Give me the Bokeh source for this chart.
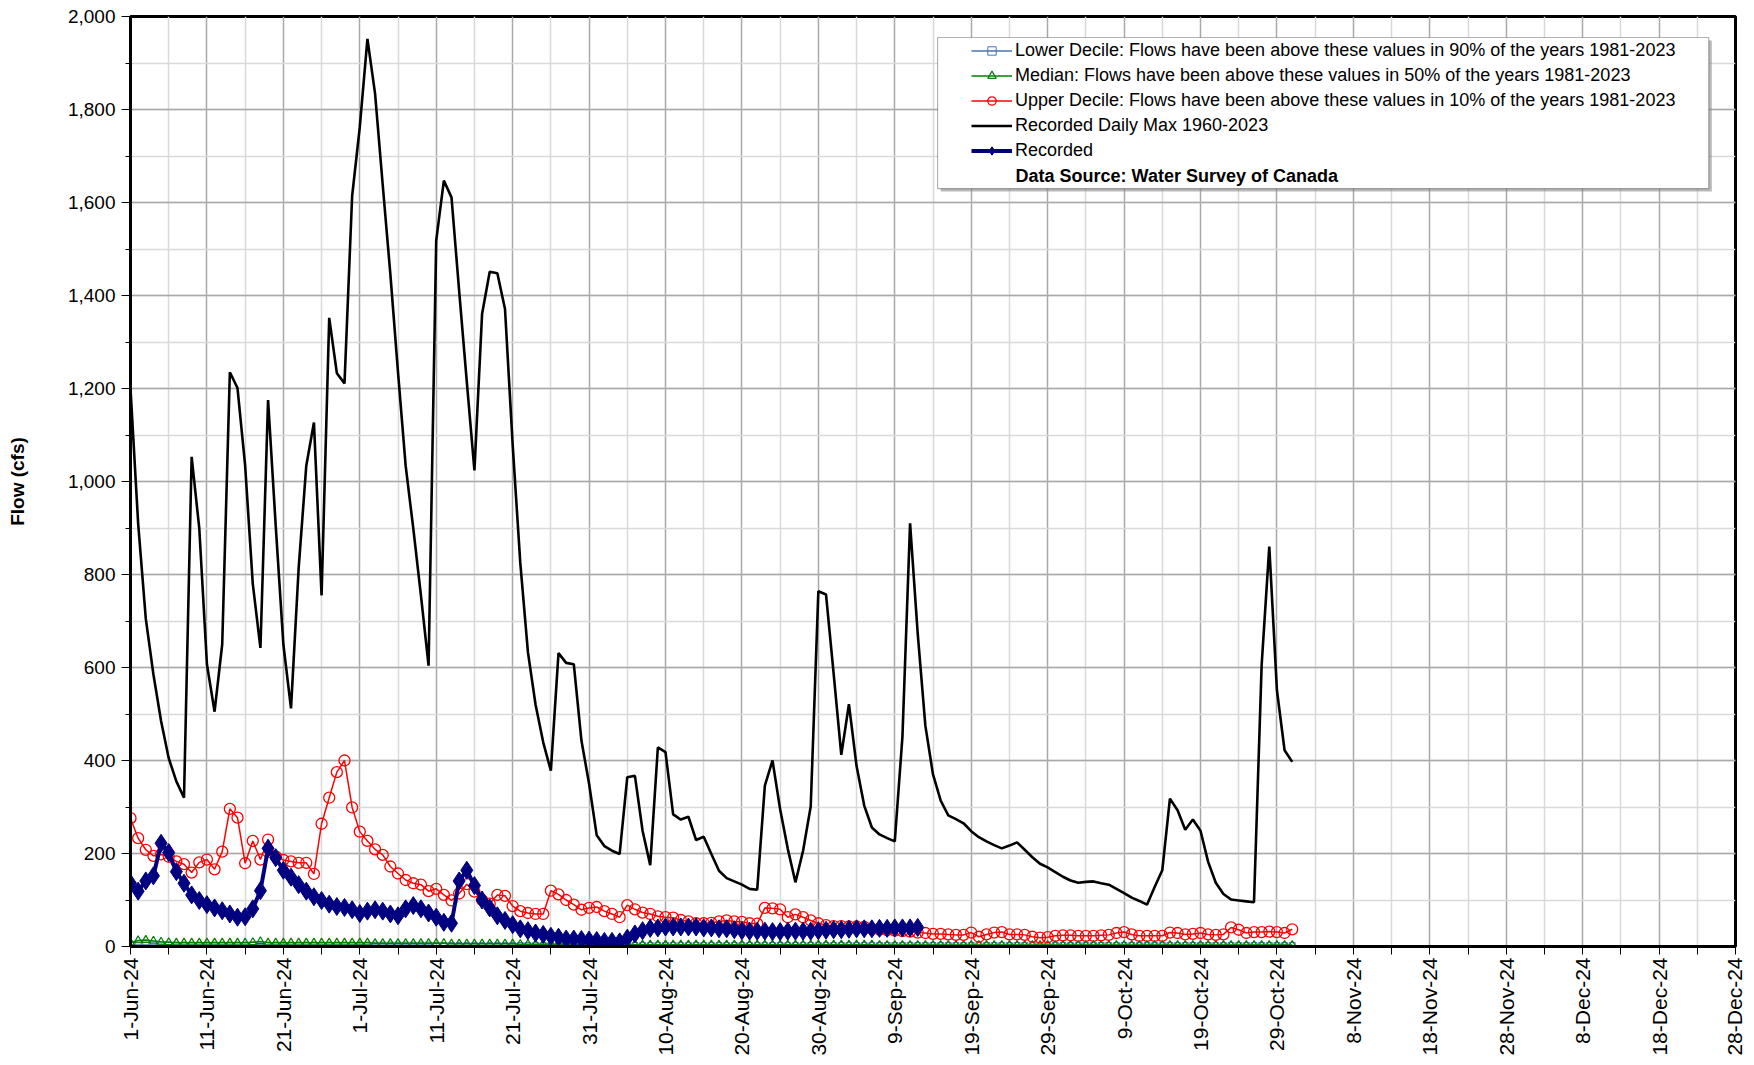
from bokeh.plotting import figure
from bokeh.models import (FixedTicker, SingleIntervalTicker, NumeralTickFormatter, Legend,
                          LegendItem, BoxAnnotation, Label, Range1d, ColumnDataSource)
from bokeh.embed import file_html
from bokeh.resources import INLINE
import math

# ---------------- data (days since 1-Jun-24) ----------------
x_tick_labels = ["1-Jun-24", "11-Jun-24", "21-Jun-24", "1-Jul-24", "11-Jul-24", "21-Jul-24",
                 "31-Jul-24", "10-Aug-24", "20-Aug-24", "30-Aug-24", "9-Sep-24", "19-Sep-24",
                 "29-Sep-24", "9-Oct-24", "19-Oct-24", "29-Oct-24", "8-Nov-24", "18-Nov-24",
                 "28-Nov-24", "8-Dec-24", "18-Dec-24", "28-Dec-24"]
x_tick_days = [0, 10, 20, 30, 40, 50, 60, 70, 80, 90, 100, 110, 120, 130, 140, 150, 160, 170,
               180, 190, 200, 210]
x_minor_days = [5, 15, 25, 35, 45, 55, 65, 75, 85, 95, 105, 115, 125, 135, 145, 155, 165, 175,
                185, 195, 205]

daily_max = [1200, 910, 705, 585, 485, 405, 355, 320, 1053, 899,
             607, 505, 650, 1235, 1201, 1034, 780, 642, 1175, 905,
             650, 512, 813, 1034, 1127, 755, 1352, 1233, 1211, 1614,
             1762, 1952, 1834, 1638, 1446, 1235, 1034, 899, 755, 604,
             1518, 1647, 1611, 1410, 1215, 1024, 1360, 1451, 1448, 1371,
             1080, 825, 633, 520, 439, 378, 631, 610, 607, 443,
             350, 239, 216, 206, 199, 364, 367, 249, 175, 428,
             418, 284, 273, 279, 229, 236, 199, 163, 147, 140,
             133, 124, 122, 346, 400, 295, 210, 138, 206, 301,
             764, 757, 587, 412, 521, 388, 303, 256, 241, 233,
             226, 451, 910, 673, 475, 370, 314, 282, 274, 265,
             248, 235, 226, 218, 211, 217, 224, 208, 192, 178,
             170, 160, 150, 142, 137, 139, 140, 136, 133, 124,
             115, 105, 98, 90, 128, 164, 318, 293, 251, 273,
             249, 182, 137, 113, 101, 99, 97, 95, 605, 860,
             551, 422, 397]

upper_decile = [276, 233, 208, 195, 198, 193, 183, 177, 159, 181,
                187, 166, 204, 296, 277, 179, 227, 187, 230, 194,
                186, 183, 180, 180, 156, 264, 320, 375, 400, 299,
                247, 227, 209, 197, 172, 157, 143, 136, 133, 119,
                124, 111, 99, 114, 134, 118, 100, 92, 111, 109,
                87, 76, 72, 70, 70, 120, 112, 100, 90, 79,
                83, 85, 76, 70, 63, 89, 80, 73, 70, 65,
                63, 62, 57, 54, 50, 50, 51, 54, 56, 54,
                53, 50, 49, 83, 82, 80, 63, 69, 63, 56,
                50, 46, 44, 44, 43, 43, 42, 38, 36, 35,
                34, 33, 32, 30, 29, 27, 27, 26, 25, 25,
                30, 21, 26, 30, 31, 26, 26, 25, 21, 19,
                20, 23, 24, 24, 23, 23, 23, 24, 25, 29,
                31, 26, 23, 23, 23, 23, 30, 29, 26, 27,
                29, 26, 25, 26, 41, 36, 29, 31, 31, 32,
                31, 29, 37]

median = [8, 13, 14, 12, 10, 9, 8, 8, 8, 8,
          8, 8, 8, 8, 8, 8, 9, 11, 8, 8,
          8, 8, 8, 8, 8, 8, 8, 8, 8, 8,
          8, 8, 7, 7, 7, 7, 7, 7, 7, 7,
          7, 7, 6, 6, 6, 6, 6, 6, 6, 6,
          6, 5, 5, 5, 5, 5, 5, 5, 4, 4,
          4, 4, 4, 4, 4, 4, 4, 4, 4, 4,
          4, 4, 4, 4, 4, 4, 4, 4, 4, 4,
          4, 4, 4, 4, 4, 4, 4, 4, 4, 4,
          4, 4, 4, 4, 4, 4, 4, 4, 3, 3,
          3, 3, 3, 3, 3, 3, 3, 3, 3, 3,
          3, 3, 3, 3, 3, 3, 3, 3, 3, 3,
          3, 3, 3, 3, 3, 3, 3, 3, 3, 3,
          3, 3, 3, 3, 3, 3, 3, 3, 3, 3,
          3, 3, 3, 3, 3, 3, 3, 3, 3, 3,
          3, 3, 3]

lower_decile = [3, 3, 3, 3, 3, 3, 3, 3, 3, 3,
                3, 3, 3, 3, 3, 3, 3, 3, 3, 3,
                3, 3, 3, 3, 3, 3, 3, 3, 3, 3,
                3, 3, 3, 3, 3, 3, 3, 3, 3, 3,
                2, 2, 2, 2, 2, 2, 2, 2, 2, 2,
                2, 2, 2, 2, 2, 2, 2, 2, 2, 2,
                2, 2, 2, 2, 2, 2, 2, 2, 2, 2,
                2, 2, 2, 2, 2, 2, 2, 2, 2, 2,
                2, 2, 2, 2, 2, 2, 2, 2, 2, 2,
                2, 2, 2, 2, 2, 2, 2, 2, 2, 2,
                2, 2, 2, 2, 2, 2, 2, 2, 2, 2,
                2, 2, 2, 2, 2, 2, 2, 2, 2, 2,
                2, 2, 2, 2, 2, 2, 2, 2, 2, 2,
                2, 2, 2, 2, 2, 2, 2, 2, 2, 2,
                2, 2, 2, 2, 2, 2, 2, 2, 2, 2,
                2, 2, 2]

recorded = [136, 119, 141, 152, 222, 202, 161, 136, 111, 99,
            90, 83, 77, 70, 63, 64, 81, 120, 211, 191,
            164, 149, 133, 119, 107, 99, 91, 86, 84, 79,
            71, 76, 79, 76, 70, 66, 81, 88, 81, 72,
            63, 52, 50, 141, 164, 131, 100, 83, 66, 56,
            47, 38, 34, 29, 26, 22, 20, 16, 16, 15,
            14, 13, 11, 11, 10, 18, 27, 34, 39, 40,
            42, 42, 42, 42, 42, 40, 40, 38, 38, 36,
            34, 33, 33, 33, 32, 32, 33, 33, 33, 33,
            34, 35, 36, 36, 37, 38, 38, 38, 39, 39,
            40, 40, 40, 41]

legend_labels = ["Lower Decile: Flows have been above these values in 90% of the years 1981-2023",
                 "Median: Flows have been above these values in 50% of the years 1981-2023",
                 "Upper Decile: Flows have been above these values in 10% of the years 1981-2023",
                 "Recorded Daily Max 1960-2023",
                 "Recorded"]
source_note = "Data Source: Water Survey of Canada"
y_title = "Flow (cfs)"

days = list(range(len(daily_max)))
rec_days = list(range(len(recorded)))

FONT = "Liberation Sans"

p = figure(width=1745, height=1062, x_range=Range1d(0, 210), y_range=Range1d(0, 2000),
           output_backend="svg", toolbar_location=None,
           min_border_left=130, min_border_right=10, min_border_top=16, min_border_bottom=116)
p.background_fill_color = "white"
p.border_fill_color = "white"
p.outline_line_color = "black"
p.outline_line_width = 3

# axes
xt = FixedTicker(ticks=x_tick_days, minor_ticks=x_minor_days)
p.xaxis.ticker = xt
p.xaxis.major_label_overrides = {d: l for d, l in zip(x_tick_days, x_tick_labels)}
p.xaxis.major_label_orientation = math.pi / 2
yt = SingleIntervalTicker(interval=200, num_minor_ticks=2)
p.yaxis.ticker = yt
p.yaxis.formatter = NumeralTickFormatter(format="0,0")

for ax in (p.xaxis[0], p.yaxis[0]):
    ax.axis_line_color = "black"
    ax.axis_line_width = 3
    ax.major_tick_line_color = "black"
    ax.minor_tick_line_color = "black"
    ax.major_tick_line_width = 1
    ax.minor_tick_line_width = 1
    ax.major_tick_in = 0
    ax.minor_tick_in = 0
    ax.major_label_text_font = FONT
    ax.major_label_text_color = "black"
p.xaxis.major_label_text_font_size = "21px"
p.yaxis.major_label_text_font_size = "19px"
p.xaxis.major_tick_out = 8
p.xaxis.minor_tick_out = 8
p.xaxis.major_label_standoff = 3
p.yaxis.major_tick_out = 9
p.yaxis.minor_tick_out = 5
p.yaxis.major_label_standoff = 6
p.yaxis.axis_label = y_title
p.yaxis.axis_label_text_font = FONT
p.yaxis.axis_label_text_font_style = "bold"
p.yaxis.axis_label_text_font_size = "19px"
p.yaxis.axis_label_text_color = "black"
p.yaxis.axis_label_standoff = 37

# grids
p.xgrid.ticker = xt
p.ygrid.ticker = yt
for g in (p.xgrid[0], p.ygrid[0]):
    g.grid_line_color = "#a8a8a8"
    g.grid_line_width = 1.5
    g.minor_grid_line_color = "#d9d9d9"
    g.minor_grid_line_width = 1.5

# series
src = ColumnDataSource(dict(day=days, mx=daily_max, up=upper_decile, md=median, lo=lower_decile))
rsrc = ColumnDataSource(dict(day=rec_days, rec=recorded))

lo_l = p.line("day", "lo", source=src, line_color="#4a76b0", line_width=1.5)
lo_m = p.scatter("day", "lo", source=src, marker="square", size=6, line_color="#4a76b0",
                 fill_alpha=0, line_width=1)
md_l = p.line("day", "md", source=src, line_color="#008000", line_width=1.5)
md_m = p.scatter("day", "md", source=src, marker="triangle", size=8, line_color="#008000",
                 fill_alpha=0, line_width=1.2)
up_l = p.line("day", "up", source=src, line_color="#ff0000", line_width=1.5)
up_m = p.scatter("day", "up", source=src, marker="circle", size=11, line_color="#ff0000",
                 fill_alpha=0, line_width=1.3)
mx_l = p.line("day", "mx", source=src, line_color="black", line_width=2.6)
rec_l = p.line("day", "rec", source=rsrc, line_color="#000080", line_width=4)
rec_m = p.scatter("day", "rec", source=rsrc, marker="diamond", size=18, line_color="#000080",
                  fill_color="#000080")

# legend frame (white box with shadow)
shadow = BoxAnnotation(left=106.0, right=206.9, top=1948.5, bottom=1623.5,
                       fill_color="#8c8c8c", fill_alpha=0.6, line_alpha=0, level="annotation")
box = BoxAnnotation(left=105.6, right=206.5, top=1954.8, bottom=1630.0,
                    fill_color="white", fill_alpha=1, line_color="black", line_width=1.2,
                    level="annotation")
p.add_layout(shadow)
p.add_layout(box)

items = [LegendItem(label=legend_labels[0], renderers=[lo_l, lo_m]),
         LegendItem(label=legend_labels[1], renderers=[md_l, md_m]),
         LegendItem(label=legend_labels[2], renderers=[up_l, up_m]),
         LegendItem(label=legend_labels[3], renderers=[mx_l]),
         LegendItem(label=legend_labels[4], renderers=[rec_l, rec_m])]
legend = Legend(items=items, location=(838, 782), label_text_font=FONT,
                label_text_font_size="18px", glyph_width=41, glyph_height=21, label_height=21,
                spacing=4, padding=3, margin=0, label_standoff=3, border_line_alpha=0,
                background_fill_alpha=0, label_text_color="black")
p.add_layout(legend)

note = Label(x=115.8, y=1656.8, text=source_note, text_font=FONT, text_font_style="bold",
             text_font_size="18px", text_baseline="middle", text_align="left",
             text_color="black")
p.add_layout(note)

open("out.html", "w").write(file_html(p, INLINE))
